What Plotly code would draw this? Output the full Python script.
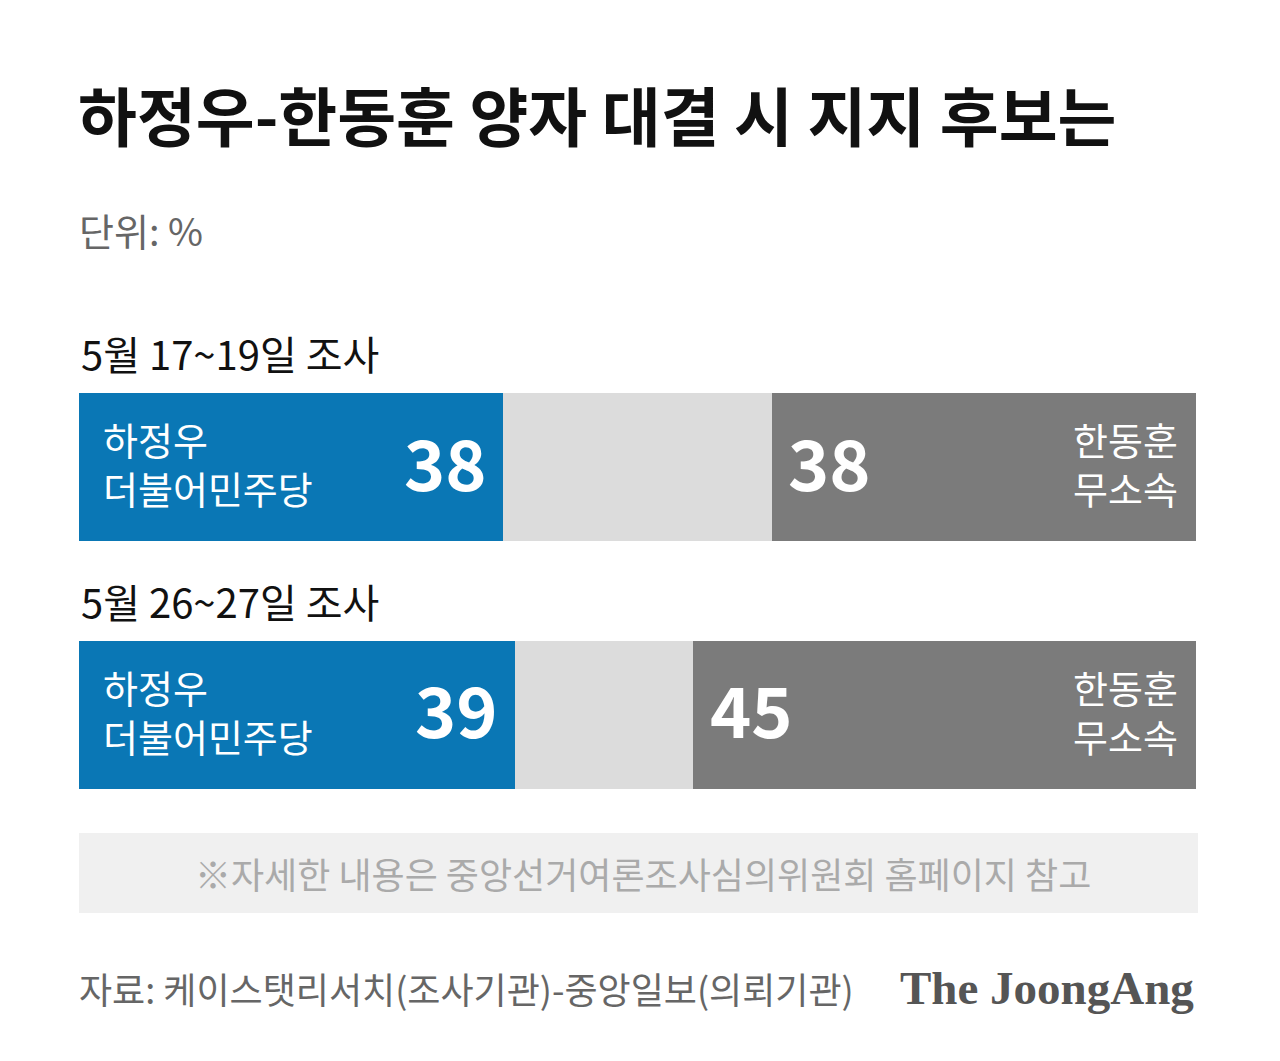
import plotly.graph_objects as go

surveys = ["5월 17~19일 조사", "5월 26~27일 조사"]
ha = [38, 39]
other = [24, 16]
han = [38, 45]
ha_label = "하정우<br>더불어민주당"
han_label = "한동훈<br>무소속"

W, H = 1280, 1061
OFF = 8  # page body margin offset
x0, x1 = 79 - OFF, 1196 - OFF
centers = [467 - OFF, 714.5 - OFF]
bw = 148

fig = go.Figure()
fig.add_bar(y=centers, x=ha, orientation="h", marker_color="#0a77b5", width=bw,
            marker_line_width=0, hoverinfo="skip")
fig.add_bar(y=centers, x=other, orientation="h", marker_color="#dcdcdc", width=bw,
            marker_line_width=0, hoverinfo="skip")
fig.add_bar(y=centers, x=han, orientation="h", marker_color="#7b7b7b", width=bw,
            marker_line_width=0, hoverinfo="skip")

F = "Noto Sans CJK KR"
ann = []
for i, c in enumerate(centers):
    ann.append(dict(x=ha[i] - 1.3, y=c - 7, xref="x", yref="y", text=f"<b>{ha[i]}</b>",
                    xanchor="right", yanchor="middle", showarrow=False,
                    font=dict(family=F, size=70, color="white")))
    ann.append(dict(x=ha[i] + other[i] + 1.3, y=c - 7, xref="x", yref="y", text=f"<b>{han[i]}</b>",
                    xanchor="left", yanchor="middle", showarrow=False,
                    font=dict(family=F, size=70, color="white")))
    ann.append(dict(x=2.0, y=c - 4, xref="x", yref="y", text=ha_label, align="left",
                    xanchor="left", yanchor="middle", showarrow=False,
                    font=dict(family=F, size=38, color="white")))
    ann.append(dict(x=98.6, y=c - 4, xref="x", yref="y", text=han_label, align="right",
                    xanchor="right", yanchor="middle", showarrow=False,
                    font=dict(family=F, size=38, color="white")))
    ann.append(dict(x=0, y=c - 114, xref="x", yref="y", text=surveys[i],
                    xanchor="left", yanchor="middle", showarrow=False,
                    font=dict(family=F, size=40, color="#111")))

def py(p):
    return 1 - (p - OFF) / H

def px(p):
    return (p - OFF) / W

ann += [
    dict(x=px(76), y=py(113), xref="paper", yref="paper", text="<b>하정우-한동훈 양자 대결 시 지지 후보는</b>",
         xanchor="left", yanchor="middle", showarrow=False, font=dict(family=F, size=64, color="#111")),
    dict(x=px(77), y=py(229), xref="paper", yref="paper", text="단위: %",
         xanchor="left", yanchor="middle", showarrow=False, font=dict(family=F, size=38, color="#666")),
    dict(x=px(643), y=py(873), xref="paper", yref="paper",
         text="※자세한 내용은 중앙선거여론조사심의위원회 홈페이지 참고",
         xanchor="center", yanchor="middle", showarrow=False, font=dict(family=F, size=36, color="#aaa")),
    dict(x=px(77), y=py(988), xref="paper", yref="paper",
         text="자료: 케이스탯리서치(조사기관)-중앙일보(의뢰기관)",
         xanchor="left", yanchor="middle", showarrow=False, font=dict(family=F, size=36, color="#666")),
    dict(x=px(1196), y=py(988), xref="paper", yref="paper", text="<b>The JoongAng</b>",
         xanchor="right", yanchor="middle", showarrow=False,
         font=dict(family="Liberation Serif", size=47, color="#555")),
]

fig.update_layout(
    width=W, height=H, margin=dict(l=0, r=0, t=0, b=0),
    barmode="stack", showlegend=False, bargap=0,
    plot_bgcolor="white", paper_bgcolor="white",
    xaxis=dict(range=[0, 100], domain=[x0 / W, x1 / W], visible=False, fixedrange=True),
    yaxis=dict(range=[H, 0], domain=[0, 1], visible=False, fixedrange=True),
    annotations=ann,
    shapes=[dict(type="rect", xref="paper", yref="paper", x0=px(79), x1=px(1198),
                 y0=py(913), y1=py(833), fillcolor="#f0f0f0", line_width=0, layer="below")],
)
fig.write_html("out.html")
